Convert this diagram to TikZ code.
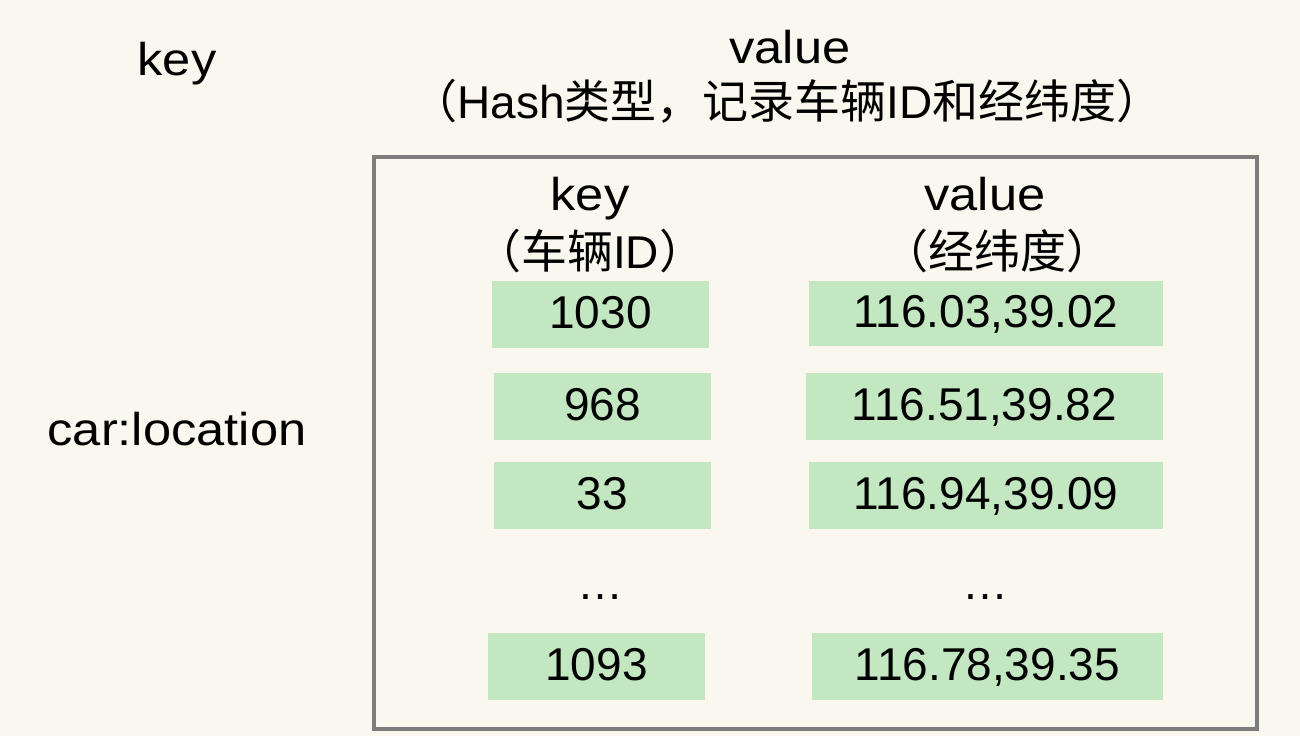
\documentclass[tikz,border=0pt]{standalone}
\usepackage{fontspec}
\setmainfont{Liberation Sans}
\newfontfamily\widefont[FakeStretch=1.1]{Liberation Sans}
\newfontfamily\cjk{Noto Sans CJK SC}
\definecolor{bg}{HTML}{FAF8EE}
\definecolor{cellgreen}{HTML}{C2E7C1}
\definecolor{framegray}{HTML}{7C7C7C}
\begin{document}
\begin{tikzpicture}[x=1pt,y=-1pt,
  every node/.style={font=\fontsize{46}{54}\selectfont, inner sep=0pt, text=black},
  txt/.style={anchor=base},
  cell/.style={fill=cellgreen, minimum height=67pt, text height=27pt, text depth=0pt}]
\fill[bg] (0,0) rectangle (1300,736);
\useasboundingbox (0,0) rectangle (1300,736);
% outer frame
\node[draw=framegray, line width=3.2pt, minimum width=883pt, minimum height=572pt] (frame) at (815.5,443) {};
% top labels
\node[txt] (topkey) at (177,75) {\widefont key};
\node[txt] (topvalue) at (790,63) {\widefont value};
\node[txt] (topdesc) at (787,118) {{\cjk （}Hash{\cjk 类型，记录车辆}ID{\cjk 和经纬度）}};
\node[txt] (carloc) at (177,445) {\widefont car:location};
% inner headers
\node[txt] (hkey) at (590,210) {\widefont key};
\node[txt] (hkeyd) at (590,268) {{\cjk （车辆}ID{\cjk ）}};
\node[txt] (hval) at (985,210) {\widefont value};
\node[txt] (hvald) at (997,268) {{\cjk （经纬度）}};
% cells
\node[cell, minimum width=217pt] (k1) at (600.5,314.5) {1030};
\node[cell, minimum width=217pt] (k2) at (602.5,406.5) {968};
\node[cell, minimum width=217pt] (k3) at (602.5,495.5) {33};
\node[cell, minimum width=217pt] (k5) at (596.5,666.5) {1093};
\node[cell, minimum width=354pt, minimum height=65pt] (v1) at (986,313.5) {116.03,39.02};
\node[cell, minimum width=357pt] (v2) at (984.5,406.5) {116.51,39.82};
\node[cell, minimum width=354pt] (v3) at (986,495.5) {116.94,39.09};
\node[cell, minimum width=351pt] (v5) at (987.5,666.5) {116.78,39.35};
% ellipses
\node[txt] (kdots) at (600,599) {…};
\node[txt] (vdots) at (985,599) {…};
\end{tikzpicture}
\end{document}
